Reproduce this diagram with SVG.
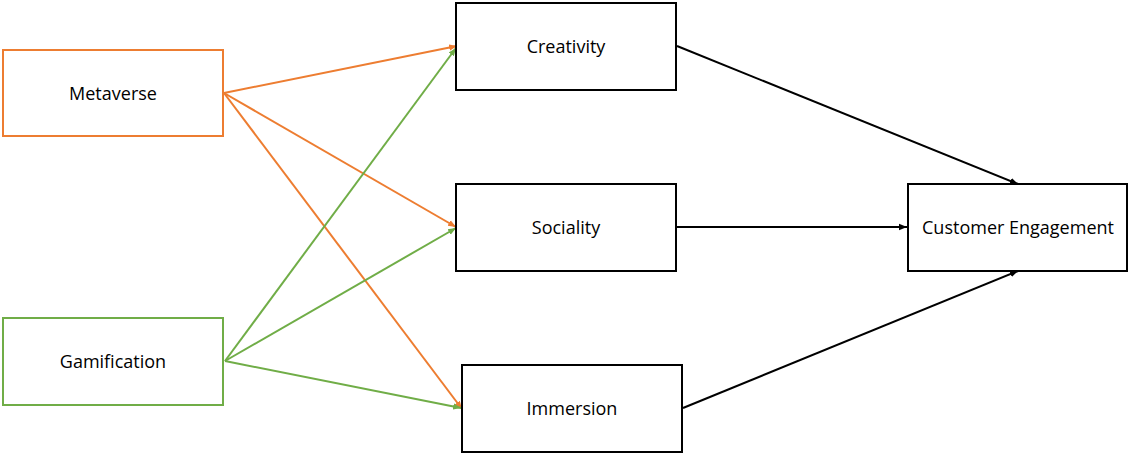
<svg xmlns="http://www.w3.org/2000/svg" width="1129" height="455" viewBox="0 0 1129 455">
<style>
.box{fill:#fff;stroke-width:2}
.k{stroke:#000}
.o{stroke:#ED7D31}
.g{stroke:#70AD47}
text{font-family:"Open Sans","Liberation Sans",sans-serif;font-size:18px;fill:#000;text-anchor:middle;dominant-baseline:central}
.c{fill:none;stroke-width:2}
</style>
<defs>
<marker id="ak" viewBox="0 0 10 10" refX="10" refY="5" markerWidth="4" markerHeight="4" orient="auto" markerUnits="strokeWidth"><path d="M0,1 L10,5 L0,9 z" fill="#000"/></marker>
<marker id="ao" viewBox="0 0 10 10" refX="10" refY="5" markerWidth="4" markerHeight="4" orient="auto" markerUnits="strokeWidth"><path d="M0,1 L10,5 L0,9 z" fill="#ED7D31"/></marker>
<marker id="ag" viewBox="0 0 10 10" refX="10" refY="5" markerWidth="4" markerHeight="4" orient="auto" markerUnits="strokeWidth"><path d="M0,1 L10,5 L0,9 z" fill="#70AD47"/></marker>
</defs>
<g id="connectors">
<line class="c o" x1="224" y1="93" x2="457" y2="46" marker-end="url(#ao)"/>
<line class="c o" x1="224" y1="93" x2="456" y2="227" marker-end="url(#ao)"/>
<line class="c o" x1="224" y1="93" x2="462" y2="409" marker-end="url(#ao)"/>
<line class="c g" x1="225" y1="361" x2="456" y2="48" marker-end="url(#ag)"/>
<line class="c g" x1="225" y1="361" x2="456" y2="228" marker-end="url(#ag)"/>
<line class="c g" x1="225" y1="361" x2="461" y2="408" marker-end="url(#ag)"/>
<line class="c k" x1="677" y1="46" x2="1018" y2="184" marker-end="url(#ak)"/>
<line class="c k" x1="677" y1="227" x2="907" y2="227" marker-end="url(#ak)"/>
<line class="c k" x1="683" y1="408" x2="1018" y2="271" marker-end="url(#ak)"/>
</g>
<g id="metaverse"><rect class="box o" x="3" y="50" width="220" height="86"/><text x="113" y="93">Metaverse</text></g>
<g id="gamification"><rect class="box g" x="3" y="318" width="220" height="87"/><text x="113" y="361">Gamification</text></g>
<g id="creativity"><rect class="box k" x="456" y="3" width="220" height="87"/><text x="566" y="46">Creativity</text></g>
<g id="sociality"><rect class="box k" x="456" y="184" width="220" height="87"/><text x="566" y="227">Sociality</text></g>
<g id="immersion"><rect class="box k" x="462" y="365" width="220" height="87"/><text x="572" y="408">Immersion</text></g>
<g id="engagement"><rect class="box k" x="908" y="184" width="219" height="87"/><text x="1018" y="227">Customer Engagement</text></g>
</svg>
